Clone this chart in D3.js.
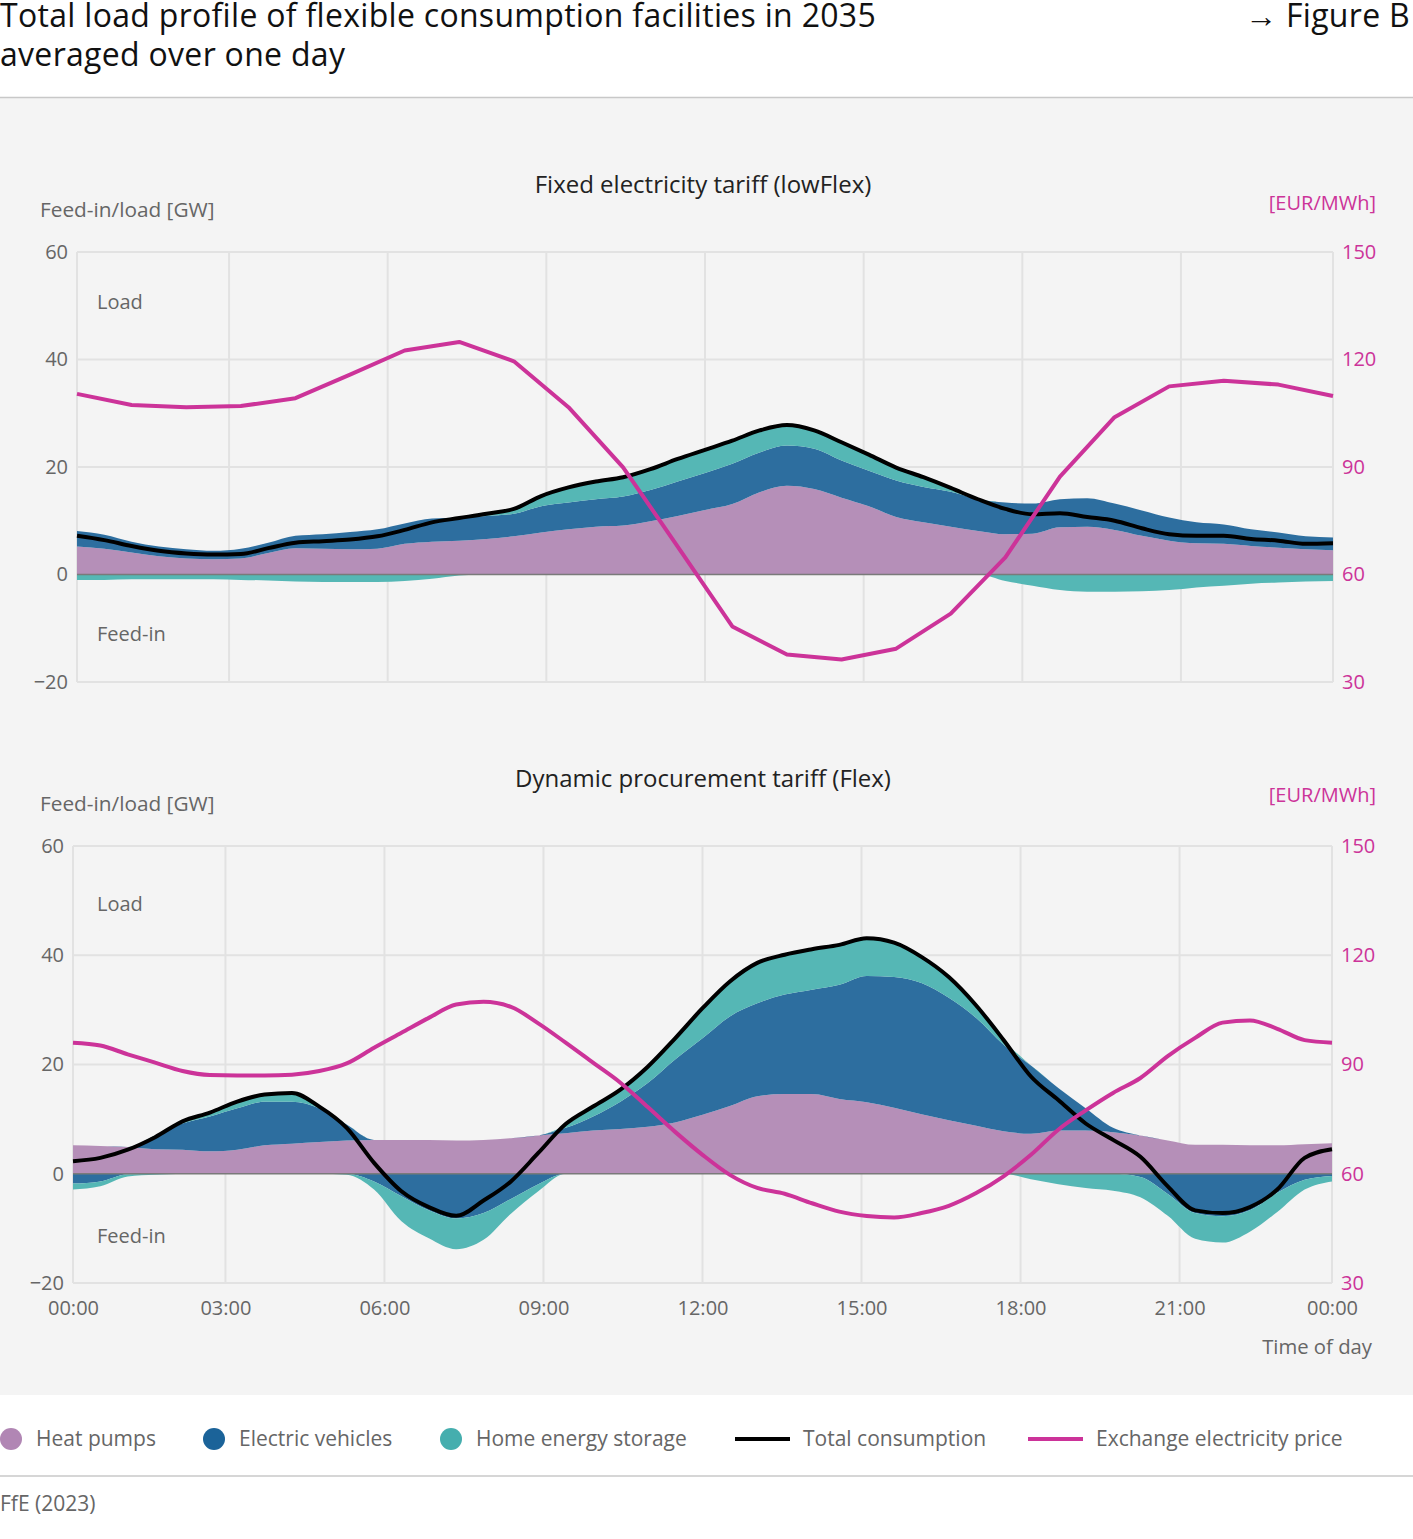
<!DOCTYPE html>
<html>
<head>
<meta charset="utf-8">
<script src="https://cdn.jsdelivr.net/npm/d3@7"></script>
<style>
  body { margin: 0; background: #fff; font-family: "Open Sans", "Noto Sans", sans-serif; }
  svg text { font-family: "Open Sans", "Noto Sans", sans-serif; }
</style>
</head>
<body>
<script>
// Sample positions: every half hour of the 24 hourly steps (index 0..23)
const steps = d3.range(0, 23.01, 0.5);
const priceSteps = d3.range(0, 24, 1);

// Fixed electricity tariff (lowFlex) [GW]
const hpLow = [5.2, 4.8, 4.1, 3.4, 3.0, 2.85, 3.0, 4.0, 4.9, 4.8, 4.7, 4.8, 5.7, 6.1, 6.3, 6.6, 7.1, 7.8, 8.4, 8.9, 9.1, 9.9, 10.9, 12.0, 13.1, 15.3, 16.5, 15.9, 14.3, 12.7, 10.7, 9.7, 8.9, 8.1, 7.5, 7.6, 8.8, 8.9, 8.3, 7.2, 6.3, 5.8, 5.7, 5.3, 5.0, 4.7, 4.5];
const evLow = [2.9, 2.6, 2.0, 1.8, 1.7, 1.55, 1.8, 1.9, 2.3, 2.7, 3.2, 3.6, 3.8, 4.3, 4.3, 4.3, 4.2, 4.9, 5.0, 5.1, 5.4, 5.8, 6.4, 6.9, 7.5, 7.4, 7.5, 7.5, 6.9, 6.6, 6.8, 6.6, 6.5, 5.9, 5.9, 5.6, 5.2, 5.3, 4.9, 4.7, 4.3, 3.9, 3.6, 3.1, 2.8, 2.4, 2.4];
const hesLow = [-1.0, -1.0, -0.9, -0.9, -0.9, -0.9, -1.0, -1.1, -1.3, -1.4, -1.4, -1.4, -1.2, -0.8, -0.2, 0.4, 0.9, 2.0, 2.8, 3.3, 3.6, 3.9, 4.2, 4.3, 4.3, 4.1, 3.8, 3.4, 3.4, 3.0, 2.4, 1.8, 0.7, 0, -1.2, -2.1, -2.9, -3.2, -3.2, -3.1, -2.9, -2.4, -2.1, -1.7, -1.5, -1.3, -1.2];
const totalLow = [7.2, 6.4, 5.3, 4.4, 3.9, 3.7, 3.8, 4.9, 5.9, 6.2, 6.5, 7.1, 8.3, 9.7, 10.5, 11.3, 12.2, 14.6, 16.2, 17.3, 18.1, 19.6, 21.5, 23.2, 24.9, 26.8, 27.8, 26.8, 24.6, 22.3, 19.9, 18.1, 16.1, 14.0, 12.2, 11.2, 11.4, 10.7, 10.0, 8.6, 7.5, 7.2, 7.2, 6.6, 6.3, 5.7, 5.8];
// Exchange electricity price, hourly [EUR/MWh]
const priceLow = [110.4, 107.3, 106.7, 107.0, 109.2, 115.8, 122.5, 124.9, 119.5, 106.7, 89.9, 67.8, 45.5, 37.7, 36.3, 39.3, 49.1, 64.8, 87.3, 103.9, 112.5, 114.1, 113.0, 109.8];

// Dynamic procurement tariff (Flex) [GW]
const hpFlex = [5.2, 5.1, 4.9, 4.5, 4.4, 4.1, 4.4, 5.2, 5.5, 5.8, 6.1, 6.2, 6.2, 6.2, 6.1, 6.2, 6.5, 7.0, 7.4, 7.9, 8.2, 8.6, 9.4, 10.8, 12.4, 14.2, 14.6, 14.6, 13.7, 13.1, 12.1, 10.9, 9.8, 8.8, 7.8, 7.3, 7.9, 7.9, 7.6, 7.0, 6.1, 5.3, 5.3, 5.2, 5.2, 5.4, 5.6];
const evFlex = [-1.8, -1.4, -0.1, 2.5, 4.8, 6.4, 7.6, 8.0, 7.7, 6.2, 2.9, -1.4, -4.1, -6.7, -8.2, -7.2, -4.6, -1.9, 1.0, 2.6, 5.0, 8.0, 11.5, 14.0, 16.4, 17.0, 18.2, 19.1, 20.9, 23.1, 23.9, 24.0, 22.4, 19.7, 15.8, 12.5, 7.8, 4.1, 0.8, -0.6, -3.7, -7.2, -7.8, -6.7, -3.5, -1.1, -0.4];
const hesFlex = [-1.1, -0.9, -0.4, -0.2, 0.4, 0.7, 1.2, 1.3, 1.6, 0.4, -0.2, -1.5, -4.6, -5.1, -5.6, -4.9, -2.7, -1.3, 0.5, 1.8, 2.2, 3.0, 3.9, 5.5, 6.4, 7.4, 7.3, 7.4, 7.3, 6.9, 6.3, 4.8, 3.8, 2.3, 0.9, -1.0, -1.9, -2.6, -3.1, -3.7, -4.0, -4.7, -4.8, -3.9, -3.5, -1.8, -1.0];
const totalFlex = [2.3, 2.9, 4.4, 6.7, 9.6, 11.2, 13.2, 14.5, 14.8, 12.3, 8.4, 2.0, -3.2, -6.1, -7.7, -4.9, -1.4, 3.8, 9.1, 12.3, 15.4, 19.6, 24.8, 30.3, 35.2, 38.6, 40.1, 41.1, 41.9, 43.1, 42.3, 39.7, 36.0, 30.8, 24.5, 17.8, 13.5, 9.2, 6.2, 3.1, -2.3, -6.7, -7.2, -6.1, -2.9, 2.9, 4.5];
// Exchange electricity price, half-hourly [EUR/MWh]
const priceFlex = [96.0, 95.2, 92.8, 90.5, 88.2, 87.1, 87.0, 87.0, 87.2, 88.2, 90.3, 94.6, 98.7, 102.8, 106.5, 107.2, 105.8, 101.3, 96.0, 90.5, 85.0, 78.3, 71.5, 65.2, 59.7, 56.1, 54.5, 51.9, 49.6, 48.4, 48.0, 49.2, 51.2, 54.7, 59.3, 65.2, 72.1, 77.4, 82.2, 86.3, 92.3, 97.3, 101.5, 102.1, 99.8, 96.7, 96.0];

// Axis ticks
const loadTicks = [-20, 0, 20, 40, 60];
const priceTicks = [30, 60, 90, 120, 150];
const timeTicks = [0, 3, 6, 9, 12, 15, 18, 21, 24];
const timeLabels = ["00:00", "03:00", "06:00", "09:00", "12:00", "15:00", "18:00", "21:00", "00:00"];

// Legend
const legendItems = [
  { key: "hp", label: "Heat pumps", type: "dot" },
  { key: "ev", label: "Electric vehicles", type: "dot" },
  { key: "hes", label: "Home energy storage", type: "dot" },
  { key: "total", label: "Total consumption", type: "line" },
  { key: "price", label: "Exchange electricity price", type: "line" },
];

const colors = {
  hp: "#b58fb8",
  ev: "#2d6e9f",
  hes: "#55b7b5",
  total: "#000000",
  price: "#cc3399",
};
const legendColors = { hp: "#b186b4", ev: "#1b6399", hes: "#45aeae", total: "#000", price: "#cc3399" };

const W = 1413;
const H = 1539;
const textGray = "#666";

const svg = d3
  .select("body")
  .append("svg")
  .attr("width", W)
  .attr("height", H);

// Header
const header = svg.append("g")
  .style("font-size", "32px").style("fill", "#111").style("letter-spacing", "0.3px");
header.append("text").attr("x", 0).attr("y", 27)
  .text("Total load profile of flexible consumption facilities in 2035");
header.append("text").attr("x", 0).attr("y", 66)
  .text("averaged over one day");
header.append("text").attr("x", 1410).attr("y", 27).attr("text-anchor", "end")
  .text("→ Figure B");

// Grey chart background
svg.append("rect").attr("x", 0).attr("y", 98).attr("width", W).attr("height", 1297).attr("fill", "#f4f4f4");
svg.append("line").attr("x1", 0).attr("x2", W).attr("y1", 97.5).attr("y2", 97.5)
  .attr("stroke", "#c8c8c8").attr("stroke-width", 1.5);

const drawPanel = (cfg) => {
  const { left, right, top, bottom } = cfg;

  const x = d3.scaleLinear().domain([0, 23]).range([left, right]);
  const xTime = d3.scaleLinear().domain([0.125, 23.875]).range([left, right]).clamp(true);
  const y = d3.scaleLinear().domain([-20, 60]).range([bottom, top]);
  const yPrice = d3.scaleLinear().domain([30, 150]).range([bottom, top]);

  const g = svg.append("g");

  // Titles and unit labels
  g.append("text").attr("x", 703).attr("y", cfg.titleY).attr("text-anchor", "middle")
    .style("font-size", "24px").style("fill", "#222").text(cfg.title);
  g.append("text").attr("x", 40).attr("y", cfg.unitY)
    .style("font-size", "20.8px").style("fill", textGray).text("Feed-in/load [GW]");
  g.append("text").attr("x", 1376).attr("y", cfg.priceUnitY).attr("text-anchor", "end")
    .style("font-size", "20px").style("fill", colors.price).text("[EUR/MWh]");

  // Grid
  const grid = g.append("g").attr("stroke", "#e2e2e2").attr("stroke-width", 2);
  grid.selectAll(".h").data(loadTicks.filter((d) => d !== 0)).enter().append("line")
    .attr("x1", left).attr("x2", right)
    .attr("y1", (d) => y(d)).attr("y2", (d) => y(d));
  grid.selectAll(".v").data(timeTicks).enter().append("line")
    .attr("x1", (d) => xTime(d)).attr("x2", (d) => xTime(d))
    .attr("y1", top).attr("y2", bottom);

  // Split each component into its load (positive) and feed-in (negative) part
  const rows = steps.map((s, i) => ({
    s,
    hp: cfg.hp[i],
    evPos: Math.max(cfg.ev[i], 0),
    hesPos: Math.max(cfg.hes[i], 0),
    evNeg: Math.min(cfg.ev[i], 0),
    hesNeg: Math.min(cfg.hes[i], 0),
  }));
  const posSeries = d3.stack().keys(["hp", "evPos", "hesPos"])(rows);
  const negSeries = d3.stack().keys(["evNeg", "hesNeg"])(rows);
  const fillFor = (key) => colors[key.replace(/Pos|Neg/, "")];

  const area = d3.area()
    .x((d) => x(d.data.s))
    .y0((d) => y(d[0]))
    .y1((d) => y(d[1]))
    .curve(d3.curveMonotoneX);
  g.append("g").selectAll("path").data(negSeries.concat(posSeries)).enter().append("path")
    .attr("d", area)
    .attr("fill", (d) => fillFor(d.key));

  // Zero line
  g.append("line").attr("x1", left).attr("x2", right)
    .attr("y1", y(0)).attr("y2", y(0))
    .attr("stroke", "#7a7a7a").attr("stroke-width", 1.5);

  // Total consumption
  const totalLine = d3.line()
    .x((d, i) => x(steps[i]))
    .y((d) => y(d))
    .curve(d3.curveMonotoneX);
  g.append("path").datum(cfg.total).attr("d", totalLine)
    .attr("fill", "none").attr("stroke", colors.total).attr("stroke-width", 4)
    .attr("stroke-linejoin", "round");

  // Exchange price
  const hourly = cfg.price.length === 24;
  const pSteps = hourly ? priceSteps : steps;
  const priceLine = d3.line()
    .x((d, i) => x(pSteps[i]))
    .y((d) => yPrice(d))
    .curve(hourly ? d3.curveLinear : d3.curveMonotoneX);
  g.append("path").datum(cfg.price).attr("d", priceLine)
    .attr("fill", "none").attr("stroke", colors.price).attr("stroke-width", 4)
    .attr("stroke-linejoin", "round");

  // Left axis
  const yAxis = g.append("g").attr("transform", `translate(${left},0)`)
    .call(d3.axisLeft(y).tickValues(loadTicks).tickSize(0).tickPadding(9));
  yAxis.select(".domain").remove();
  yAxis.selectAll("text").style("font-size", "20px").style("fill", textGray)
    .style("font-family", "'Open Sans', sans-serif");

  // Right axis
  const pAxis = g.append("g").attr("transform", `translate(${right},0)`)
    .call(d3.axisRight(yPrice).tickValues(priceTicks).tickSize(0).tickPadding(9));
  pAxis.select(".domain").remove();
  pAxis.selectAll("text").style("font-size", "20px").style("fill", colors.price)
    .style("font-family", "'Open Sans', sans-serif");

  // Inner labels
  g.append("text").attr("x", 97).attr("y", cfg.loadY)
    .style("font-size", "20px").style("fill", textGray).text("Load");
  g.append("text").attr("x", 97).attr("y", cfg.feedY)
    .style("font-size", "20px").style("fill", textGray).text("Feed-in");

  // Time axis on the lower panel
  if (cfg.showTime) {
    const xAxis = g.append("g").attr("transform", `translate(0,${bottom})`)
      .call(d3.axisBottom(xTime).tickValues(timeTicks).tickSize(0).tickPadding(18)
        .tickFormat((d, i) => timeLabels[i]));
    xAxis.select(".domain").remove();
    xAxis.selectAll("text").style("font-size", "20px").style("fill", textGray)
      .style("font-family", "'Open Sans', sans-serif");
    g.append("text").attr("x", 1372).attr("y", 1354).attr("text-anchor", "end")
      .style("font-size", "20.3px").style("fill", textGray).text("Time of day");
  }
};

drawPanel({
  title: "Fixed electricity tariff (lowFlex)",
  left: 77, right: 1333, top: 252, bottom: 682,
  titleY: 193, unitY: 217, priceUnitY: 210, loadY: 309, feedY: 641,
  hp: hpLow, ev: evLow, hes: hesLow, total: totalLow, price: priceLow,
  showTime: false,
});

drawPanel({
  title: "Dynamic procurement tariff (Flex)",
  left: 73, right: 1332, top: 846, bottom: 1283,
  titleY: 787, unitY: 811, priceUnitY: 802, loadY: 911, feedY: 1243,
  hp: hpFlex, ev: evFlex, hes: hesFlex, total: totalFlex, price: priceFlex,
  showTime: true,
});

// Legend
const legendX = [11, 214, 451, 735, 1028];
const legend = svg.append("g").attr("transform", "translate(0,1439)");
const item = legend.selectAll("g").data(legendItems).enter().append("g")
  .attr("transform", (d, i) => `translate(${legendX[i]},0)`);
item.filter((d) => d.type === "dot").append("circle")
  .attr("r", 11).attr("fill", (d) => legendColors[d.key]);
item.filter((d) => d.type === "line").append("line")
  .attr("x1", 0).attr("x2", 55).attr("stroke", (d) => legendColors[d.key]).attr("stroke-width", 4);
item.append("text")
  .attr("x", (d) => (d.type === "dot" ? 25 : 68))
  .attr("y", 7)
  .style("font-size", "21px").style("fill", textGray)
  .text((d) => d.label);

// Footer
svg.append("line").attr("x1", 0).attr("x2", W).attr("y1", 1476).attr("y2", 1476)
  .attr("stroke", "#c8c8c8").attr("stroke-width", 1.5);
svg.append("text").attr("x", 0).attr("y", 1511)
  .style("font-size", "21px").style("fill", textGray).text("FfE (2023)");
</script>
</body>
</html>
